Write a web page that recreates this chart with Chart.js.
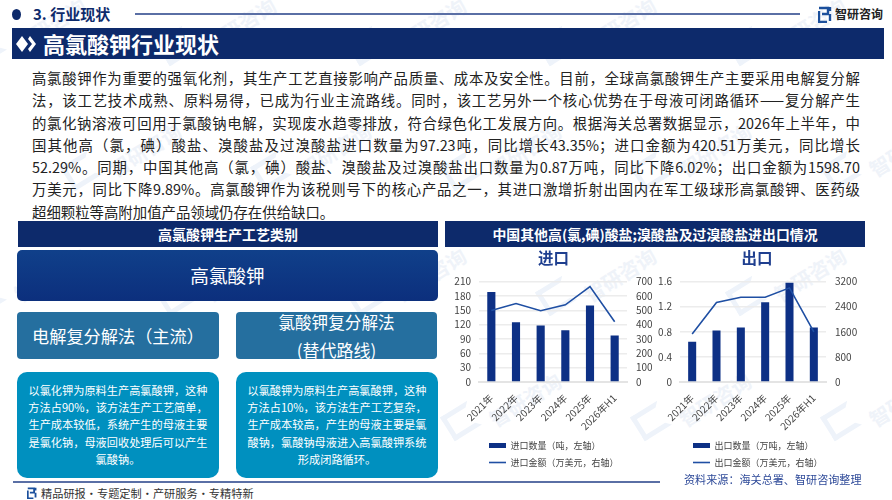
<!DOCTYPE html>
<html>
<head>
<meta charset="utf-8">
<script src="https://cdn.jsdelivr.net/npm/chart.js@4/dist/chart.umd.min.js"></script>
<style>
html, body { margin: 0; padding: 0; background: #fff; }
#page { position: relative; width: 892px; height: 500px; overflow: hidden; font-family: "Noto Sans CJK SC", sans-serif; color: #222; }
#page div, #page canvas, #page svg { position: absolute; }
.mark { color: #eff3f9; font-size: 20px; font-weight: 700; transform: rotate(-32deg); white-space: nowrap; }
.markLogo { border: 5px solid #eef3fa; border-right-color: transparent; width: 22px; height: 18px; transform: rotate(-32deg); }
.band { background: #0d2a6b; color: #fff; text-align: center; font-weight: 700; }
.line { left: 32px; width: 828px; height: 22px; line-height: 22px; font-size: 14.4px; white-space: nowrap; text-align: justify; text-align-last: justify; }
.box { color: #fff; text-align: center; }
.note { top: 372px; width: 202px; height: 106px; background: #0090bf; border-radius: 10px; font-size: 11.2px; line-height: 17.2px; padding-top: 10px; box-sizing: border-box; }
.plan { top: 312px; height: 47px; background: #256f9f; border-radius: 4px; font-size: 16.6px; }
</style>
</head>
<body>
<div id="page">
  <div id="marks"></div>

  <div style="left:12px;top:9px;width:9px;height:11px;border-radius:50%;background:#0d2a6b"></div>
  <div style="left:33px;top:3px;font-size:15px;font-weight:700;color:#0d2a6b;line-height:22px;white-space:nowrap">3. 行业现状</div>
  <div style="left:135px;top:13px;width:665px;height:2px;background:#5a6fa5"></div>
  <svg style="left:818px;top:6px" width="14" height="17" viewBox="0 0 14 17"><path d="M1 2h9v6H4M1 5v11h8M12 1v4M12 8v7" fill="none" stroke="#1b4f9c" stroke-width="2.4"/></svg>
  <div style="left:835px;top:5px;font-size:12px;font-weight:700;color:#222;line-height:18px;white-space:nowrap">智研咨询</div>

  <div class="band" style="left:12px;top:28px;width:872px;height:31px"></div>
  <svg style="left:16px;top:36px" width="22" height="16" viewBox="0 0 22 16"><path d="M6 0l6 8-6 8-6-8zM14 0l6 8-6 8-2-3 4-5-4-5z" fill="#fff"/></svg>
  <div style="left:43px;top:28px;font-size:22px;font-weight:700;color:#fff;line-height:31px;white-space:nowrap">高氯酸钾行业现状</div>

  <div class="line" style="top:67px">高氯酸钾作为重要的强氧化剂，其生产工艺直接影响产品质量、成本及安全性。目前，全球高氯酸钾生产主要采用电解复分解</div>
  <div class="line" style="top:89px">法，该工艺技术成熟、原料易得，已成为行业主流路线。同时，该工艺另外一个核心优势在于母液可闭路循环——复分解产生</div>
  <div class="line" style="top:112px">的氯化钠溶液可回用于氯酸钠电解，实现废水趋零排放，符合绿色化工发展方向。根据海关总署数据显示，2026年上半年，中</div>
  <div class="line" style="top:134px">国其他高（氯，碘）酸盐、溴酸盐及过溴酸盐进口数量为97.23吨，同比增长43.35%；进口金额为420.51万美元，同比增长</div>
  <div class="line" style="top:156px">52.29%。同期，中国其他高（氯，碘）酸盐、溴酸盐及过溴酸盐出口数量为0.87万吨，同比下降6.02%；出口金额为1598.70</div>
  <div class="line" style="top:178px">万美元，同比下降9.89%。高氯酸钾作为该税则号下的核心产品之一，其进口激增折射出国内在军工级球形高氯酸钾、医药级</div>
  <div class="line" style="top:201px;width:auto;text-align-last:left">超细颗粒等高附加值产品领域仍存在供给缺口。</div>

  <div class="band" style="left:18px;top:221px;width:420px;height:26px;line-height:26px;font-size:14px">高氯酸钾生产工艺类别</div>
  <div class="band" style="left:445px;top:221px;width:420px;height:26px;line-height:26px;font-size:13.9px">中国其他高(氯,碘)酸盐;溴酸盐及过溴酸盐进出口情况</div>

  <div class="box" style="left:17px;top:250px;width:421px;height:51px;line-height:50px;border-radius:5px;font-size:18.6px;background:linear-gradient(#10408a,#0c2f7d)">高氯酸钾</div>
  <div class="box plan" style="left:17px;width:202px;line-height:47px;font-size:17.2px">电解复分解法（主流）</div>
  <div class="box plan" style="left:236px;width:201px">
    <div style="left:0;right:0;top:-3px;line-height:27px">氯酸钾复分解法<br><span style="font-size:17px">(替代路线)</span></div>
  </div>
  <div class="box note" style="left:17px">以氯化钾为原料生产高氯酸钾，这种<br>方法占90%，该方法生产工艺简单，<br>生产成本较低，系统产生的母液主要<br>是氯化钠，母液回收处理后可以产生<br>氯酸钠。</div>
  <div class="box note" style="left:236px">以氯酸钾为原料生产高氯酸钾，这种<br>方法占10%，该方法生产工艺复杂，<br>生产成本较高，产生的母液主要是氯<br>酸钠，氯酸钠母液进入高氯酸钾系统<br>形成闭路循环。</div>

  <canvas id="importChart" style="left:446px;top:248px;width:215px;height:230px"></canvas>
  <canvas id="exportChart" style="left:654px;top:248px;width:206px;height:230px"></canvas>

  <div style="left:13px;top:481px;width:647px;height:2px;background:#5a6fa5"></div>
  <svg style="left:27px;top:487px" width="10" height="12" viewBox="0 0 14 17"><path d="M1 2h9v6H4M1 5v11h8M12 1v4M12 8v7" fill="none" stroke="#1b4f9c" stroke-width="2.6"/></svg>
  <div style="left:41px;top:484px;font-size:11.2px;line-height:18px;color:#333;white-space:nowrap;word-spacing:-2.5px">精品研报 · 专题定制 · 产研服务 · 专精特新</div>
  <div style="left:684px;top:471px;font-size:11.1px;line-height:17px;color:#2e4a99;white-space:nowrap">资料来源：海关总署、智研咨询整理</div>
</div>

<script>
var years = ['2021年', '2022年', '2023年', '2024年', '2025年', '2026年H1'];
var importQty = [188, 125, 118, 108, 160, 97.23];
var importAmount = [499, 547, 497, 538, 665, 420.51];
var exportQty = [0.64, 0.82, 0.87, 1.27, 1.58, 0.87];
var exportAmount = [1531, 2535, 2703, 2703, 3000, 1598.7];

var barColor = '#0d3085';
var lineColor = '#1f4fa3';
var tickFont = { family: '"Noto Sans CJK SC", sans-serif', size: 10 };

// faint watermark behind everything
var marks = document.getElementById('marks');
for (var row = 0; row < 4; row++) {
    for (var col = 0; col < 5; col++) {
        var x = col * 190 + (row % 2) * 95 - 30;
        var y = row * 125 + 10;
        marks.innerHTML += '<div class="markLogo" style="left:' + x + 'px;top:' + (y + 22) + 'px"></div>' +
            '<div class="mark" style="left:' + (x + 40) + 'px;top:' + y + 'px">智研咨询</div>';
    }
}

function plainTick(value) {
    return String(value);
}

function drawChart(id, title, qtyName, amountName, qty, amount, leftAxis, rightAxis, sizes) {
    return new Chart(document.getElementById(id), {
        data: {
            labels: years,
            datasets: [
                { type: 'bar', label: qtyName, data: qty, yAxisID: 'y', order: 2,
                  backgroundColor: barColor, borderColor: barColor,
                  barPercentage: 0.33, categoryPercentage: 1,
                  pointStyle: 'rect' },
                { type: 'line', label: amountName, data: amount, yAxisID: 'y1', order: 1,
                  borderColor: lineColor, backgroundColor: lineColor, borderWidth: 1.6,
                  pointRadius: 0, tension: 0, pointStyle: 'line' }
            ]
        },
        plugins: [{
            // nudge the legend right so it sits where the reference has it
            id: 'legendShift',
            afterLayout: function (chart) { chart.legend.left += sizes.legendShift; }
        }],
        options: {
            responsive: false,
            animation: false,
            layout: { padding: { bottom: 1 } },
            plugins: {
                title: {
                    display: true, text: title, color: '#1f3f8f',
                    font: { family: tickFont.family, size: 15.5, weight: '700', lineHeight: 1.2 },
                    padding: { top: 1, bottom: 14 }
                },
                legend: {
                    position: 'bottom',
                    align: 'start',
                    fullSize: false,
                    labels: {
                        usePointStyle: true, pointStyleWidth: 17, boxHeight: 5,
                        padding: 8, color: '#444',
                        font: { family: tickFont.family, size: 9, lineHeight: 0.5 },
                        sort: function (a, b) { return a.datasetIndex - b.datasetIndex; }
                    }
                }
            },
            scales: {
                x: {
                    grid: { display: false },
                    border: { color: '#e4e4e4', width: 2 },
                    ticks: { color: '#444', font: tickFont, minRotation: 45, maxRotation: 45, padding: 2, autoSkip: false },
                    afterFit: function (axis) { axis.height = 51; }
                },
                y: {
                    position: 'left', min: 0, max: leftAxis.max,
                    border: { display: false },
                    grid: { color: '#ececec', lineWidth: 1.5, drawTicks: false },
                    ticks: { color: '#444', font: tickFont, stepSize: leftAxis.step, padding: 8, autoSkip: false, callback: plainTick },
                    afterFit: function (axis) { axis.width = sizes.leftWidth; }
                },
                y1: {
                    position: 'right', min: 0, max: rightAxis.max,
                    border: { display: false },
                    grid: { display: false, drawTicks: false },
                    ticks: { color: '#444', font: tickFont, stepSize: rightAxis.step, padding: 9, autoSkip: false, callback: plainTick },
                    afterFit: function (axis) { axis.width = sizes.rightWidth; }
                }
            }
        }
    });
}

function sizeCanvas(id, w, h) {
    var c = document.getElementById(id);
    c.width = w; c.height = h;
}
sizeCanvas('importChart', 215, 230);
sizeCanvas('exportChart', 206, 230);

drawChart('importChart', '进口', '进口数量（吨，左轴）', '进口金额（万美元，右轴）', importQty, importAmount,
    { max: 210, step: 30 }, { max: 700, step: 100 }, { leftWidth: 33, rightWidth: 34, legendShift: 2 });
drawChart('exportChart', '出口', '出口数量（万吨，左轴）', '出口金额（万美元，右轴）', exportQty, exportAmount,
    { max: 1.6, step: 0.4 }, { max: 3200, step: 800 }, { leftWidth: 26, rightWidth: 34, legendShift: 5 });
</script>
</body>
</html>
